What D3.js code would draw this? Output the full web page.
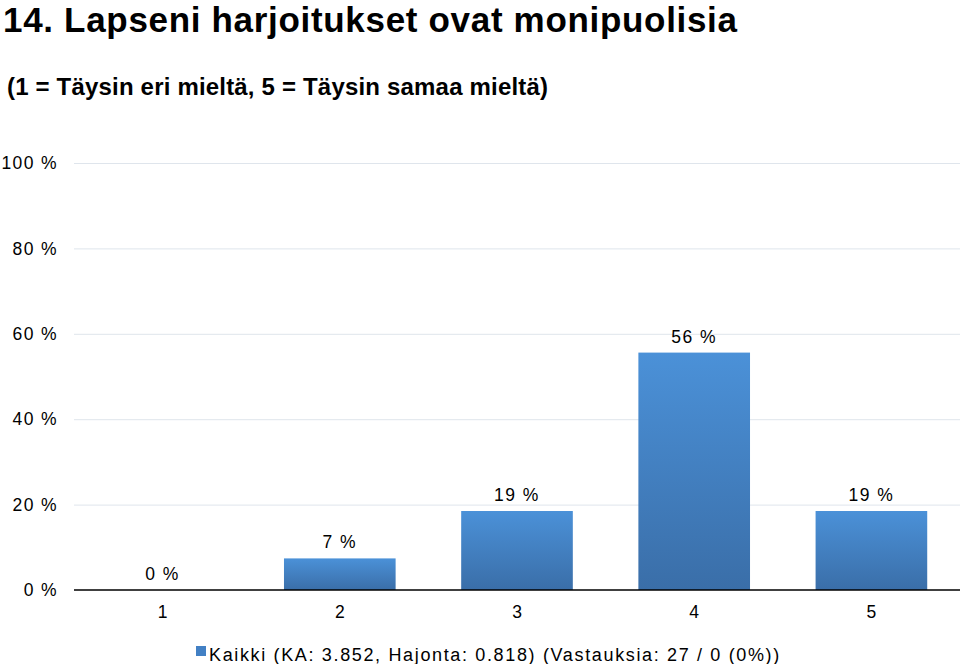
<!DOCTYPE html>
<html><head><meta charset="utf-8">
<script src="https://cdn.jsdelivr.net/npm/d3@7"></script>
<style>body{margin:0;background:#fff}svg{display:block;font-family:"Liberation Sans",Arial,sans-serif}</style>
</head><body><svg id="c" width="960" height="664"></svg>
<script>
const categories = ["1","2","3","4","5"];
const values = [0, 7.4, 18.5, 55.6, 18.5];
const valueLabels = ["0 %","7 %","19 %","56 %","19 %"];
const yTicks = [0,20,40,60,80,100];
const title = "14. Lapseni harjoitukset ovat monipuolisia";
const subtitle = "(1 = Täysin eri mieltä, 5 = Täysin samaa mieltä)";
const legendText = "Kaikki (KA: 3.852, Hajonta: 0.818) (Vastauksia: 27 / 0 (0%))";

const svg = d3.select("#c");
const m = {left:74, right:960, top:163, bottom:590};
const x = d3.scaleBand().domain(categories).range([m.left, m.right]).paddingInner(0.37).paddingOuter(0.185);
const y = d3.scaleLinear().domain([0,100]).range([m.bottom, m.top]);

const defs = svg.append("defs");
const g = defs.append("linearGradient").attr("id","bg").attr("x1",0).attr("y1",0).attr("x2",0).attr("y2",1);
g.append("stop").attr("offset","0%").attr("stop-color","#4b91d8");
g.append("stop").attr("offset","100%").attr("stop-color","#3a6ea8");

svg.append("text").attr("x",3).attr("y",32).attr("font-size",35).attr("font-weight","bold").attr("fill","#000")
  .attr("textLength",734).attr("lengthAdjust","spacing").text(title);
svg.append("text").attr("x",7).attr("y",95).attr("font-size",24).attr("font-weight","bold").attr("fill","#000")
  .attr("textLength",541).attr("lengthAdjust","spacing").text(subtitle);

// gridlines
svg.append("g").selectAll("line").data(yTicks.filter(d=>d>0)).join("line")
  .attr("x1",m.left).attr("x2",m.right).attr("y1",d=>y(d)+0.5).attr("y2",d=>y(d)+0.5)
  .attr("stroke","#dfe5ec").attr("stroke-width",1);

// y axis labels
const yAxis = d3.axisLeft(y).tickValues(yTicks).tickSize(0).tickPadding(16).tickFormat(d=>d+" %");
const ya = svg.append("g").attr("transform",`translate(${m.left},0)`).call(yAxis);
ya.select(".domain").remove();
ya.selectAll("text").attr("font-size",17.5).attr("fill","#000").attr("letter-spacing","1.4px").attr("font-family","Liberation Sans, Arial, sans-serif");

// bars
svg.append("g").selectAll("rect").data(values).join("rect")
  .attr("x",(d,i)=>x(categories[i])).attr("width",x.bandwidth())
  .attr("y",d=>y(d)).attr("height",d=>y(0)-y(d)).attr("fill","url(#bg)");

// value labels
svg.append("g").selectAll("text").data(values).join("text")
  .attr("x",(d,i)=>x(categories[i])+x.bandwidth()/2).attr("y",d=>y(d)-10)
  .attr("text-anchor","middle").attr("font-size",17.5).attr("letter-spacing","1.5px").attr("fill","#000")
  .text((d,i)=>valueLabels[i]);

// x axis
const xAxis = d3.axisBottom(x).tickSize(0).tickPadding(16);
const xa = svg.append("g").attr("transform",`translate(0,${m.bottom})`).call(xAxis);
xa.select(".domain").attr("stroke","#000").attr("stroke-width",1.5).attr("d",`M${m.left},0H${m.right}`);
xa.selectAll("text").attr("font-size",17.5).attr("fill","#000").attr("font-family","Liberation Sans, Arial, sans-serif");

// legend
svg.append("rect").attr("x",196).attr("y",646).attr("width",10).attr("height",10).attr("fill","#4280c4");
svg.append("text").attr("x",209).attr("y",661).attr("font-size",18).attr("letter-spacing","1.65px").attr("fill","#000").text(legendText);
</script></body></html>
